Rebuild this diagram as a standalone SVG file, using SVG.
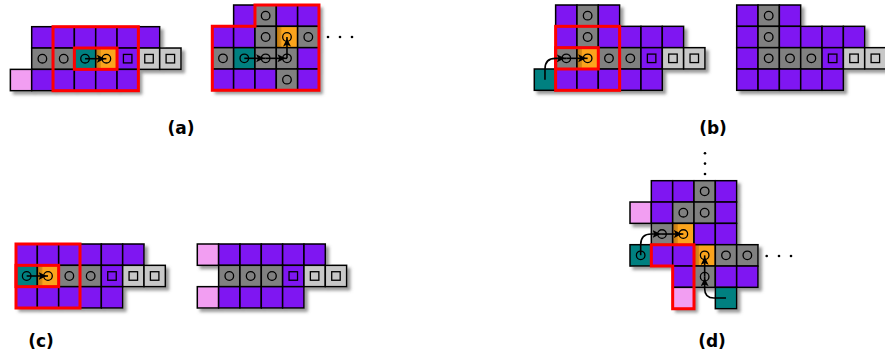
<svg xmlns="http://www.w3.org/2000/svg" xmlns:xlink="http://www.w3.org/1999/xlink" width="885" height="358" viewBox="0 0 885 358">
<style>
.c{stroke:#000;stroke-width:1.5}
.sym{fill:none;stroke:#000;stroke-width:1.3}
.red{fill:none;stroke:#f00;stroke-width:3;stroke-linejoin:miter}
.ar{fill:none;stroke:#000;stroke-width:1.6}
.lab{font-family:"DejaVu Sans","Liberation Sans",sans-serif;font-weight:bold;font-size:17px;fill:#000}
.dot{fill:#000}
</style>
<defs>
<filter id="sh" x="-10%" y="-10%" width="130%" height="130%">
<feDropShadow dx="3.2" dy="3.2" stdDeviation="1.4" flood-color="#666" flood-opacity="0.65"/>
</filter>
<linearGradient id="og" x1="0" y1="0" x2="1" y2="0">
<stop offset="0" stop-color="#b87410"/>
<stop offset="0.22" stop-color="#d98c18"/>
<stop offset="0.26" stop-color="#fba41e"/>
<stop offset="1" stop-color="#fba41e"/>
</linearGradient>
<marker id="ah" markerUnits="userSpaceOnUse" markerWidth="11" markerHeight="9" refX="9.5" refY="4" orient="auto">
<path d="M0,0 L8,4 L0,8 L1.8,4 Z" fill="#000"/>
</marker>
<g id="P"><rect class="c" width="21.33" height="21.33" fill="#7f17f2"/></g>
<g id="K"><rect class="c" width="21.33" height="21.33" fill="#f29ef2"/></g>
<g id="T0"><rect class="c" width="21.33" height="21.33" fill="#008080"/></g>
<g id="G"><rect class="c" width="21.33" height="21.33" fill="#808080"/><circle class="sym" cx="10.67" cy="10.67" r="4.3"/></g>
<g id="T"><rect class="c" width="21.33" height="21.33" fill="#008080"/><circle class="sym" cx="10.67" cy="10.67" r="4.3"/></g>
<g id="O"><rect class="c" width="21.33" height="21.33" fill="url(#og)"/><circle class="sym" cx="10.67" cy="10.67" r="4.3"/></g>
<g id="Q"><rect class="c" width="21.33" height="21.33" fill="#7f17f2"/><rect class="sym" x="6.4" y="6.4" width="8.5" height="8.5"/></g>
<g id="L"><rect class="c" width="21.33" height="21.33" fill="#c8c8c8"/><rect class="sym" x="6.4" y="6.4" width="8.5" height="8.5"/></g>
</defs>

<g id="panel-a1" transform="translate(31.7,26.7)">
<g filter="url(#sh)">
<use href="#P" x="0" y="0"/><use href="#P" x="21.33" y="0"/><use href="#P" x="42.67" y="0"/><use href="#P" x="64" y="0"/><use href="#P" x="85.33" y="0"/><use href="#P" x="106.67" y="0"/>
<use href="#G" x="0" y="21.33"/><use href="#G" x="21.33" y="21.33"/><use href="#T" x="42.67" y="21.33"/><use href="#O" x="64" y="21.33"/><use href="#Q" x="85.33" y="21.33"/><use href="#L" x="106.67" y="21.33"/><use href="#L" x="128" y="21.33"/>
<use href="#K" x="-21.33" y="42.67"/><use href="#P" x="0" y="42.67"/><use href="#P" x="21.33" y="42.67"/><use href="#P" x="42.67" y="42.67"/><use href="#P" x="64" y="42.67"/><use href="#P" x="85.33" y="42.67"/>
</g>
<rect class="red" x="21.33" y="0" width="85.33" height="64"/>
<rect class="red" x="42.67" y="21.33" width="42.67" height="21.33"/>
<g id="conn-a1"><path class="ar" d="M53.33,32 L74.67,32" marker-end="url(#ah)"/></g>
</g>

<g id="panel-a2" transform="translate(212.3,5)">
<g filter="url(#sh)">
<use href="#P" x="21.33" y="0"/><use href="#G" x="42.67" y="0"/><use href="#P" x="64" y="0"/><use href="#P" x="85.33" y="0"/>
<use href="#P" x="0" y="21.33"/><use href="#P" x="21.33" y="21.33"/><use href="#G" x="42.67" y="21.33"/><use href="#O" x="64" y="21.33"/><use href="#G" x="85.33" y="21.33"/>
<use href="#G" x="0" y="42.67"/><use href="#T" x="21.33" y="42.67"/><use href="#G" x="42.67" y="42.67"/><use href="#G" x="64" y="42.67"/><use href="#P" x="85.33" y="42.67"/>
<use href="#P" x="0" y="64"/><use href="#P" x="21.33" y="64"/><use href="#P" x="42.67" y="64"/><use href="#G" x="64" y="64"/><use href="#P" x="85.33" y="64"/>
</g>
<polygon class="red" points="0,21.33 42.67,21.33 42.67,0 106.67,0 106.67,85.33 0,85.33"/>
<g id="conn-a2">
<path class="ar" d="M32,53.33 L53.33,53.33" marker-end="url(#ah)"/>
<path class="ar" d="M53.33,53.33 L74.67,53.33" marker-end="url(#ah)"/>
<path class="ar" d="M74.67,53.33 L74.67,32" marker-end="url(#ah)"/>
</g>
</g>
<g id="dots-a"><circle class="dot" cx="328" cy="37" r="1.3"/><circle class="dot" cx="340" cy="37" r="1.3"/><circle class="dot" cx="352" cy="37" r="1.3"/></g>

<g id="panel-b1" transform="translate(534.3,5)">
<g filter="url(#sh)">
<use href="#P" x="21.33" y="0"/><use href="#G" x="42.67" y="0"/><use href="#P" x="64" y="0"/>
<use href="#P" x="21.33" y="21.33"/><use href="#G" x="42.67" y="21.33"/><use href="#P" x="64" y="21.33"/><use href="#P" x="85.33" y="21.33"/><use href="#P" x="106.67" y="21.33"/><use href="#P" x="128" y="21.33"/>
<use href="#G" x="21.33" y="42.67"/><use href="#O" x="42.67" y="42.67"/><use href="#G" x="64" y="42.67"/><use href="#G" x="85.33" y="42.67"/><use href="#Q" x="106.67" y="42.67"/><use href="#L" x="128" y="42.67"/><use href="#L" x="149.33" y="42.67"/>
<use href="#T0" x="0" y="64"/><use href="#P" x="21.33" y="64"/><use href="#P" x="42.67" y="64"/><use href="#P" x="64" y="64"/><use href="#P" x="85.33" y="64"/><use href="#P" x="106.67" y="64"/>
</g>
<rect class="red" x="21.33" y="21.33" width="64" height="64"/>
<rect class="red" x="21.33" y="42.67" width="42.67" height="21.33"/>
<g id="conn-b1">
<path class="ar" d="M10.67,74.67 L10.67,64 Q10.67,53.33 21.33,53.33 L32,53.33" marker-end="url(#ah)"/>
<path class="ar" d="M32,53.33 L53.33,53.33" marker-end="url(#ah)"/>
</g>
</g>

<g id="panel-b2" transform="translate(736.7,5)">
<g filter="url(#sh)">
<use href="#P" x="0" y="0"/><use href="#G" x="21.33" y="0"/><use href="#P" x="42.67" y="0"/>
<use href="#P" x="0" y="21.33"/><use href="#G" x="21.33" y="21.33"/><use href="#P" x="42.67" y="21.33"/><use href="#P" x="64" y="21.33"/><use href="#P" x="85.33" y="21.33"/><use href="#P" x="106.67" y="21.33"/>
<use href="#P" x="0" y="42.67"/><use href="#G" x="21.33" y="42.67"/><use href="#G" x="42.67" y="42.67"/><use href="#G" x="64" y="42.67"/><use href="#Q" x="85.33" y="42.67"/><use href="#L" x="106.67" y="42.67"/><use href="#L" x="128" y="42.67"/>
<use href="#P" x="0" y="64"/><use href="#P" x="21.33" y="64"/><use href="#P" x="42.67" y="64"/><use href="#P" x="64" y="64"/><use href="#P" x="85.33" y="64"/>
</g>
</g>

<g id="panel-c1" transform="translate(16,244)">
<g filter="url(#sh)">
<use href="#P" x="0" y="0"/><use href="#P" x="21.33" y="0"/><use href="#P" x="42.67" y="0"/><use href="#P" x="64" y="0"/><use href="#P" x="85.33" y="0"/><use href="#P" x="106.67" y="0"/>
<use href="#T" x="0" y="21.33"/><use href="#O" x="21.33" y="21.33"/><use href="#G" x="42.67" y="21.33"/><use href="#G" x="64" y="21.33"/><use href="#Q" x="85.33" y="21.33"/><use href="#L" x="106.67" y="21.33"/><use href="#L" x="128" y="21.33"/>
<use href="#P" x="0" y="42.67"/><use href="#P" x="21.33" y="42.67"/><use href="#P" x="42.67" y="42.67"/><use href="#P" x="64" y="42.67"/><use href="#P" x="85.33" y="42.67"/>
</g>
<rect class="red" x="0" y="0" width="64" height="64"/>
<rect class="red" x="0" y="21.33" width="42.67" height="21.33"/>
<g id="conn-c1"><path class="ar" d="M10.67,32 L32,32" marker-end="url(#ah)"/></g>
</g>

<g id="panel-c2" transform="translate(197.3,244)">
<g filter="url(#sh)">
<use href="#K" x="0" y="0"/><use href="#P" x="21.33" y="0"/><use href="#P" x="42.67" y="0"/><use href="#P" x="64" y="0"/><use href="#P" x="85.33" y="0"/><use href="#P" x="106.67" y="0"/>
<use href="#G" x="21.33" y="21.33"/><use href="#G" x="42.67" y="21.33"/><use href="#G" x="64" y="21.33"/><use href="#Q" x="85.33" y="21.33"/><use href="#L" x="106.67" y="21.33"/><use href="#L" x="128" y="21.33"/>
<use href="#K" x="0" y="42.67"/><use href="#P" x="21.33" y="42.67"/><use href="#P" x="42.67" y="42.67"/><use href="#P" x="64" y="42.67"/><use href="#P" x="85.33" y="42.67"/>
</g>
</g>

<g id="panel-d" transform="translate(630,180.7)">
<g filter="url(#sh)">
<use href="#P" x="21.33" y="0"/><use href="#P" x="42.67" y="0"/><use href="#G" x="64" y="0"/><use href="#P" x="85.33" y="0"/>
<use href="#K" x="0" y="21.33"/><use href="#P" x="21.33" y="21.33"/><use href="#G" x="42.67" y="21.33"/><use href="#G" x="64" y="21.33"/><use href="#P" x="85.33" y="21.33"/>
<use href="#G" x="21.33" y="42.67"/><use href="#O" x="42.67" y="42.67"/><use href="#P" x="64" y="42.67"/><use href="#P" x="85.33" y="42.67"/>
<use href="#T" x="0" y="64"/><use href="#P" x="21.33" y="64"/><use href="#P" x="42.67" y="64"/><use href="#O" x="64" y="64"/><use href="#G" x="85.33" y="64"/><use href="#G" x="106.67" y="64"/>
<use href="#P" x="42.67" y="85.33"/><use href="#G" x="64" y="85.33"/><use href="#P" x="85.33" y="85.33"/><use href="#P" x="106.67" y="85.33"/>
<use href="#K" x="42.67" y="106.67"/><use href="#T0" x="85.33" y="106.67"/>
</g>
<polygon class="red" points="21.33,64 64,64 64,128 42.67,128 42.67,85.33 21.33,85.33"/>
<g id="conn-d">
<path class="ar" d="M10.67,74.67 L10.67,64 Q10.67,53.33 21.33,53.33 L32,53.33" marker-end="url(#ah)"/>
<path class="ar" d="M32,53.33 L53.33,53.33" marker-end="url(#ah)"/>
<path class="ar" d="M96,117.33 L84,117.33 Q74.67,117.33 74.67,108 L74.67,96" marker-end="url(#ah)"/>
<path class="ar" d="M74.67,96 L74.67,74.67" marker-end="url(#ah)"/>
</g>
</g>
<g id="dots-d">
<circle class="dot" cx="705" cy="153.3" r="1.3"/><circle class="dot" cx="705" cy="163.6" r="1.3"/><circle class="dot" cx="705" cy="174" r="1.3"/>
<circle class="dot" cx="766.7" cy="256" r="1.3"/><circle class="dot" cx="779" cy="256" r="1.3"/><circle class="dot" cx="791" cy="256" r="1.3"/>
</g>

<text class="lab" x="181" y="134" text-anchor="middle">(a)</text>
<text class="lab" x="713" y="134" text-anchor="middle">(b)</text>
<text class="lab" x="41" y="347" text-anchor="middle">(c)</text>
<text class="lab" x="712" y="347" text-anchor="middle">(d)</text>
</svg>
